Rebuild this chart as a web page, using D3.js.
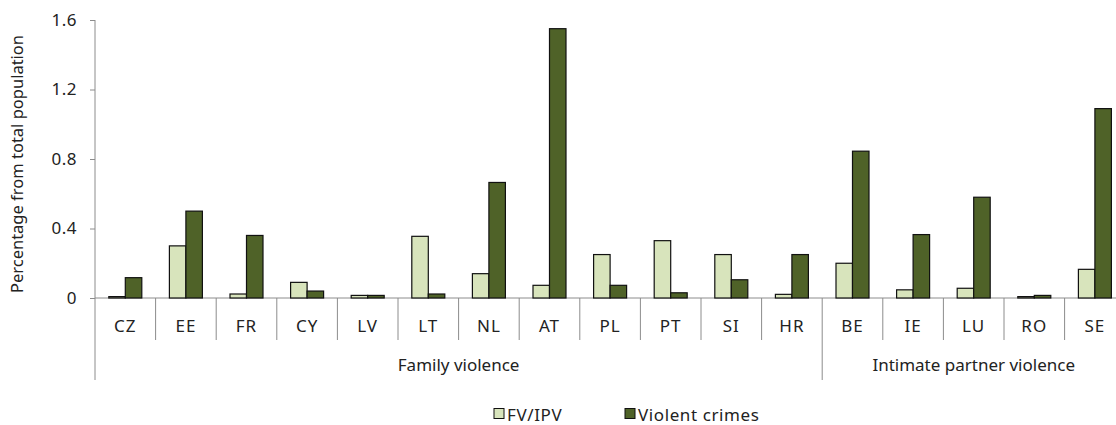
<!DOCTYPE html>
<html><head><meta charset="utf-8">
<script src="https://cdn.jsdelivr.net/npm/d3@7"></script>
<style>body{margin:0;background:#fff;} text{font-family:"Noto Sans",sans-serif;fill:#222;}</style>
</head><body><svg id="c" width="1116" height="425"></svg>
<script>
const categories = ["CZ","EE","FR","CY","LV","LT","NL","AT","PL","PT","SI","HR","BE","IE","LU","RO","SE"];
const groups = [{name:"Family violence", from:"CZ", to:"HR"},{name:"Intimate partner violence", from:"BE", to:"SE"}];
const fvipv = [0.008,0.30,0.023,0.09,0.015,0.355,0.14,0.073,0.25,0.33,0.25,0.021,0.20,0.047,0.056,0.008,0.165];
const violent = [0.117,0.50,0.36,0.04,0.015,0.023,0.665,1.55,0.073,0.03,0.105,0.25,0.845,0.365,0.58,0.015,1.09];
const seriesNames = ["FV/IPV","Violent crimes"];
const yTicks = [0,0.4,0.8,1.2,1.6];
const colors = ["#d8e4bc","#4f6228"];

const svg = d3.select("#c");
const x0 = 95, y0 = 298, yTop = 20, bandW = 60.6;
const x = d3.scaleBand().domain(categories).range([x0, x0 + bandW*categories.length]).padding(0);
const y = d3.scaleLinear().domain([0,1.6]).range([y0, yTop]);
const barTotal = 33;
const x1 = d3.scaleBand().domain(seriesNames).range([(bandW-barTotal)/2, (bandW+barTotal)/2]);

const axisCol = "#8c8c8c";
const fs = "17px";
// y axis
const yAxis = svg.append("g").attr("transform",`translate(${x0},0)`)
  .call(d3.axisLeft(y).tickValues(yTicks).tickFormat(d=> d===0?"0":d3.format(".1f")(d)).tickSize(5).tickPadding(13));
yAxis.select(".domain").remove();
yAxis.selectAll(".tick line").attr("stroke",axisCol);
yAxis.selectAll(".tick text").style("font-size",fs).style("letter-spacing","0.5px").attr("fill","#333");
svg.append("line").attr("x1",x0).attr("x2",x0).attr("y1",yTop).attr("y2",380).attr("stroke",axisCol);

// y title
svg.append("text").attr("transform",`translate(23,${(yTop+y0)/2+5}) rotate(-90)`).attr("text-anchor","middle")
  .style("font-size","16.5px").attr("fill","#333").text("Percentage from total population");

// x axis line
svg.append("line").attr("x1",x0).attr("x2",x0+bandW*categories.length).attr("y1",y0).attr("y2",y0).attr("stroke",axisCol);

// category separators
const gEnds = new Set(groups.slice(0,-1).map(g=>g.to));
categories.forEach((c,i)=>{
  if(i===0) return;
  const xx = x(c);
  const isGroup = gEnds.has(categories[i-1]);
  svg.append("line").attr("x1",xx).attr("x2",xx).attr("y1",y0).attr("y2",isGroup?380:340).attr("stroke",axisCol);
});
svg.append("line").attr("x1",x0+bandW*categories.length).attr("x2",x0+bandW*categories.length).attr("y1",y0).attr("y2",380).attr("stroke",axisCol);

// category labels
svg.selectAll("text.cat").data(categories).join("text").attr("class","cat")
  .attr("x",d=>x(d)+bandW/2).attr("y",332).attr("text-anchor","middle")
  .style("font-size",fs).style("letter-spacing","1px").attr("fill","#333").text(d=>d);

// group labels
groups.forEach(g=>{
  const a = x(g.from), b = x(g.to)+bandW;
  svg.append("text").attr("x",(a+b)/2).attr("y",371).attr("text-anchor","middle")
    .style("font-size",fs).attr("fill","#333").text(g.name);
});

// bars
const data = categories.map((c,i)=>({c, vals:[fvipv[i], violent[i]]}));
const cg = svg.selectAll("g.cg").data(data).join("g").attr("class","cg").attr("transform",d=>`translate(${x(d.c)},0)`);
cg.selectAll("rect").data(d=>d.vals.map((v,j)=>({v,s:seriesNames[j],j}))).join("rect")
  .attr("x",d=>x1(d.s)).attr("width",x1.bandwidth())
  .attr("y",d=>y(d.v)).attr("height",d=>y0-y(d.v))
  .attr("fill",d=>colors[d.j]).attr("stroke","#111").attr("stroke-width",1.2);

// legend
const legX = [494, 625];
seriesNames.forEach((s,i)=>{
  svg.append("rect").attr("x",legX[i]).attr("y",408.5).attr("width",10).attr("height",10)
    .attr("fill",colors[i]).attr("stroke","#111").attr("stroke-width",1);
  svg.append("text").attr("x",legX[i]+13).attr("y",421).style("font-size",fs).style("letter-spacing","0.6px").attr("fill","#333").text(s);
});
</script></body></html>
